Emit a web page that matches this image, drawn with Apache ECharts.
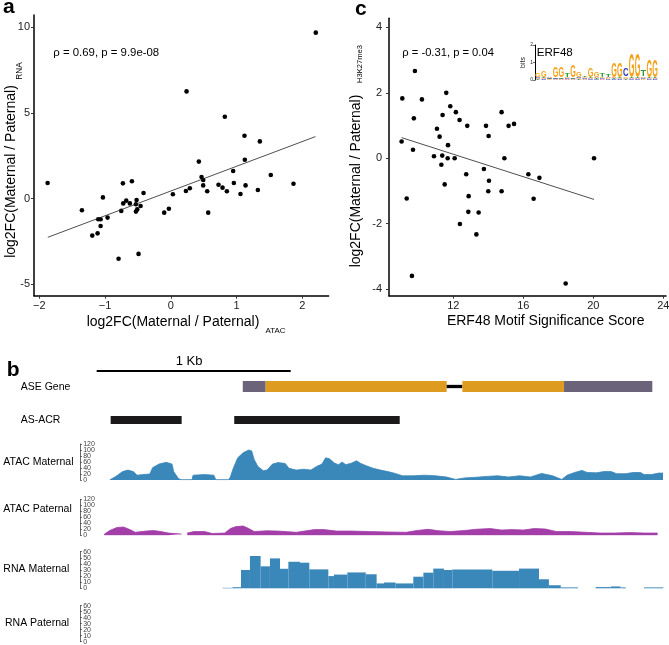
<!DOCTYPE html>
<html>
<head>
<meta charset="utf-8">
<script src="https://cdn.jsdelivr.net/npm/echarts@6/dist/echarts.min.js"></script>
<style>html,body{margin:0;padding:0;background:#fff}#c{width:669px;height:645px}</style>
</head>
<body>
<div id="c"></div>
<script>
// ---------- Panel a data ----------
const aX = [2.205,-1.873,0.240,0.822,1.121,1.354,0.427,1.126,1.521,0.468,0.493,0.949,0.959,1.866,0.726,0.493,1.137,0.787,0.290,0.230,0.554,0.853,1.324,1.060,0.032,-0.414,-0.728,-0.591,-1.032,-0.520,-0.677,-0.723,-0.622,-0.530,-0.459,-0.510,-0.530,-0.753,-0.100,-0.029,0.569,-1.351,-0.961,-1.103,-1.067,-1.067,-1.194,-1.113,-0.794,-0.490];
const aY = [9.69,0.91,6.26,4.78,3.67,3.34,2.16,2.27,1.38,1.26,1.09,1.61,0.91,0.87,0.81,0.77,0.77,0.64,0.60,0.44,0.43,0.43,0.50,0.27,0.25,0.33,0.89,1.01,0.07,-0.08,-0.12,-0.28,-0.28,-0.33,-0.43,-0.63,-0.76,-0.72,-0.82,-0.59,-0.82,-0.68,-1.11,-1.21,-1.21,-1.60,-2.16,-2.03,-3.51,-3.23];
const aFitX = [-1.87, 2.20];
const aFitY = [-2.26, 3.62];
const aXTicks = [-2,-1,0,1,2];
const aYTicks = [-5,0,5,10];

// ---------- Panel c data ----------
const cX = [9.81,9.09,10.21,11.60,11.83,12.15,14.76,9.75,11.39,12.36,12.80,13.87,15.16,15.47,11.07,11.22,14.02,9.05,11.70,9.70,10.90,11.37,11.68,12.08,14.92,20.04,11.32,13.75,12.74,16.29,16.92,14.04,11.51,14.00,14.76,12.88,9.34,16.59,12.86,13.45,12.38,13.32,9.64,18.42];
const cY = [2.67,1.83,1.80,2.00,1.59,1.41,1.41,1.22,1.32,1.17,0.99,0.99,0.99,1.05,0.90,0.66,0.68,0.51,0.40,0.26,0.06,0.08,0.00,0.00,0.00,0.00,-0.20,-0.33,-0.49,-0.49,-0.60,-0.69,-0.80,-1.01,-1.01,-1.16,-1.23,-1.24,-1.64,-1.66,-2.01,-2.33,-3.60,-3.83];
const cFitX = [9.05, 20.04];
const cFitY = [0.63, -1.26];
const cXTicks = [12,16,20,24];
const cYTicks = [-4,-2,0,2,4];

// ---------- Motif (ERF48) letter heights in bits ----------
const motifA = [.05,.05,.06,.04,.04,.05,.04,.05,.05,.05,.06,.05,.06,.06,.05,.06,.05,.05,.08,.06,.05];
const motifC = [.05,.04,.05,.05,.04,.06,.04,.05,.05,.04,.05,.06,.05,.04,.04,.45,.04,.04,.06,.04,.04];
const motifG = [.25,.36,.04,.62,.58,.06,.65,.33,.05,.52,.28,.06,.05,.80,.80,.08,1.40,1.40,.05,.95,.95];
const motifT = [.04,.05,.04,.04,.05,.25,.05,.04,.05,.05,.05,.20,.15,.05,.05,.05,.06,.05,.40,.06,.05];

// ---------- Panel b (relative bp) ----------
const scaleBar = [0, 1000];
const geneStart = [753, 871, 1804, 1885, 2409];
const geneEnd   = [871, 1804, 1885, 2409, 2864];
const geneType  = ['utr','cds','intron','cds','utr'];
const acrStart = [72, 709];
const acrEnd   = [438, 1562];
const atacTicks = [0,20,40,60,80,100,120];
const rnaTicks = [0,10,20,30,40,50,60];

const atacPos = [67,104,133,161,189,208,237,274,288,321,359,388,397,421,435,491,497,557,604,614,680,689,704,727,755,784,799,812,831,859,878,906,935,972,991,1029,1067,1104,1133,1161,1180,1199,1227,1246,1265,1284,1312,1340,1359,1387,1425,1463,1501,1538,1576,1633,1689,1746,1803,1850,1897,1954,2010,2067,2123,2180,2236,2293,2350,2397,2425,2463,2501,2529,2576,2614,2652,2680,2727,2765,2803,2821,2859,2897,2919];
const atacMat = [0,14,28,33,28,16,18,20,41,53,59,53,28,5,1,1,16,18,16,1,1,10,39,74,91,100,97,68,45,31,33,53,58,55,39,33,36,33,45,53,74,71,56,51,60,51,56,64,56,48,39,33,28,22,14,14,16,14,10,2,7,9,12,14,10,14,10,22,14,2,16,25,32,25,24,28,28,21,21,25,25,18,18,23,23];

const patPos = [38,67,104,138,171,199,255,293,331,369,438,452,467,501,557,595,661,689,718,755,784,812,878,935,1029,1123,1171,1237,1312,1406,1501,1595,1652,1708,1765,1821,1897,1954,2029,2086,2142,2199,2255,2312,2369,2444,2519,2595,2670,2746,2821,2891];
const atacPat = [3,16,26,27.5,19,10,14,16,12.5,7.5,4,null,7.5,12.5,12.5,6,7.5,22.5,29,31,22.5,12.5,15,14,10,19,19,14,14,12.5,11,10,16,20,15,12.5,16,20,22.5,17.5,19,17.5,22.5,21,12.5,12.5,10,7.5,7.5,9,7.5,7.5];

const rnaStart = [649,700,744,790,845,893,945,988,1048,1096,1194,1223,1292,1387,1443,1481,1541,1632,1684,1735,1790,1833,2039,2177,2280,2331,2392,2572,2650,2700,2821];
const rnaEnd   = [700,744,790,845,893,945,988,1048,1096,1194,1223,1292,1387,1443,1481,1541,1632,1684,1735,1790,1833,2039,2177,2280,2331,2392,2481,2650,2700,2727,2921];
const rnaMat   = [0.8,1.8,30,53,36,49,32,43.5,42,31,20,22.5,26,23,8,9.5,8,19,25.6,32.3,30,31,28.7,32.3,14.8,5,1.5,2,3,1.5,1.5];

// ---------- styling ----------
const FONT = '"Liberation Sans", Arial, Helvetica, sans-serif';
const BLUE = '#3a87b9';
const PURPLE = '#a33ea9';
const ORANGE = '#dd9b20';
const SLATE = '#6a6379';
const LETTER_COLORS = {A:'#d42a2a', C:'#2a36b8', G:'#f3a31b', T:'#2f9a3a'};
const LETTER_W = {A:.722, C:.722, G:.778, T:.611};
const GX0 = -86, GX1 = 2950;

const zip = (xs, ys) => xs.map((x, i) => [x, ys[i]]);
const minusFmt = v => (v < 0 ? '\u2212' + Math.abs(v) : String(v));
const hyphenFmt = v => String(v);

function scatterAxes(gi, xr, yr, xt, yt, ylm, xfmt) {
  const common = {
    gridIndex: gi, type: 'value', splitLine: {show: false},
    axisLine: {show: true, onZero: false, lineStyle: {color: '#000', width: 1.5}},
  };
  return {
    x: Object.assign({}, common, {min: xr[0], max: xr[1],
      axisTick: {show: true, length: 3, customValues: xt, lineStyle: {color: '#333', width: 1}},
      axisLabel: {customValues: xt, formatter: xfmt, fontSize: 11, color: '#222', margin: 5, fontFamily: FONT}}),
    y: Object.assign({}, common, {min: yr[0], max: yr[1],
      axisTick: {show: true, length: 3, customValues: yt, lineStyle: {color: '#333', width: 1}},
      axisLabel: {customValues: yt, formatter: hyphenFmt, fontSize: 11, color: '#222', margin: ylm, fontFamily: FONT}})
  };
}
const axA = scatterAxes(0, [-2.08, 2.4], [-5.67, 10.72], aXTicks, aYTicks, 4, minusFmt);
const axC = scatterAxes(1, [8.33, 24.15], [-4.205, 4.28], cXTicks, cYTicks, 7, hyphenFmt);

const trackGrids = [
  {top: 370, height: 2},      // 3 scale bar
  {top: 381, height: 11},     // 4 gene
  {top: 416, height: 8},      // 5 ACR
  {top: 444, height: 36},     // 6 ATAC maternal
  {top: 499.3, height: 36},   // 7 ATAC paternal
  {top: 551.7, height: 36.6}, // 8 RNA maternal
  {top: 605.7, height: 36}    // 9 RNA paternal
];

const grids = [
  {left: 34, top: 15, width: 294.6, height: 280.7},
  {left: 389, top: 18.3, width: 277, height: 277.4},
  {left: 535, top: 45, width: 123, height: 35}
].concat(trackGrids.map(g => ({left: 80, top: g.top, width: 589, height: g.height})))
 .map(g => Object.assign({outerBoundsMode: 'none', containLabel: false}, g));

const xAxes = [axA.x, axC.x, {gridIndex: 2, type: 'value', min: 0.5, max: 21.5, show: false}];
const yAxes = [axA.y, axC.y, {
  gridIndex: 2, type: 'value', min: 0, max: 2, interval: 1, splitLine: {show: false},
  axisLine: {show: true, onZero: false, lineStyle: {color: '#000', width: 1}},
  axisTick: {show: true, length: 2, lineStyle: {color: '#000', width: 0.6}},
  axisLabel: {fontSize: 5, margin: 2, color: '#222', fontFamily: FONT},
  name: 'bits', nameLocation: 'middle', nameRotate: 90, nameGap: 7,
  nameTextStyle: {fontSize: 7, color: '#222', fontFamily: FONT}
}];
for (let i = 3; i <= 9; i++) {
  xAxes.push({gridIndex: i, type: 'value', min: GX0, max: GX1, show: false});
}
for (let i = 3; i <= 5; i++) {
  yAxes.push({gridIndex: i, type: 'value', min: 0, max: 1, show: false});
}
function trackY(gi, max, step) {
  return {
    gridIndex: gi, type: 'value', min: 0, max: max, interval: step, position: 'left',
    splitLine: {show: false},
    axisLine: {show: true, onZero: false, lineStyle: {color: '#444', width: 0.8}},
    axisTick: {show: true, inside: true, length: 2, lineStyle: {color: '#444', width: 0.7}},
    axisLabel: {show: false}
  };
}
yAxes.push(trackY(6, 120, 20), trackY(7, 120, 20), trackY(8, 60, 10), trackY(9, 60, 10));

function rectItem(colorFn, y0f, y1f) {
  return function (params, api) {
    const s = api.value(0), e = api.value(1);
    const v = api.value(2);
    const lo = y0f(v), hi = y1f(v);
    const p0 = api.coord([s, lo]);
    const p1 = api.coord([e, hi]);
    return {
      type: 'rect',
      shape: {x: p0[0], y: p1[1], width: p1[0] - p0[0], height: p0[1] - p1[1]},
      style: {fill: colorFn(params.dataIndex)}
    };
  };
}

function tickLabelItem(params, api) {
  const p = api.coord([api.value(0), api.value(1)]);
  return {
    type: 'text', x: p[0] + 3.2, y: p[1],
    style: {text: String(api.value(1)), font: '7px ' + FONT, fill: '#444', align: 'left', verticalAlign: 'middle'}
  };
}

function motifItem(params, api) {
  const pos = api.value(0);
  const letters = ['A', 'C', 'G', 'T'];
  const hs = [api.value(1), api.value(2), api.value(3), api.value(4)];
  const order = [0, 1, 2, 3].sort((i, j) => hs[i] - hs[j]);
  let cum = 0;
  const children = [];
  const F = 40;
  for (const k of order) {
    const h = hs[k];
    if (!(h > 0)) continue;
    const L = letters[k];
    const pB = api.coord([pos - 0.5, cum]);
    const pT = api.coord([pos + 0.5, cum + h]);
    const w = pT[0] - pB[0];
    const hp = pB[1] - pT[1];
    const sx = w * 0.96 / (LETTER_W[L] * F);
    const sy = hp / (0.72 * F);
    children.push({
      type: 'text', x: (pB[0] + pT[0]) / 2, y: (pB[1] + pT[1]) / 2 + 0.06 * F * sy,
      scaleX: sx, scaleY: sy,
      style: {text: L, font: 'bold ' + F + 'px ' + FONT, fill: LETTER_COLORS[L], align: 'center', verticalAlign: 'middle'}
    });
    cum += h;
  }
  return {type: 'group', children: children};
}

const series = [
  {type: 'scatter', xAxisIndex: 0, yAxisIndex: 0, data: zip(aX, aY), symbolSize: 4.6, itemStyle: {color: '#000', opacity: 1}, silent: true},
  {type: 'line', xAxisIndex: 0, yAxisIndex: 0, data: zip(aFitX, aFitY), symbol: 'none', lineStyle: {color: '#222', width: 0.8}, silent: true},
  {type: 'scatter', xAxisIndex: 1, yAxisIndex: 1, data: zip(cX, cY), symbolSize: 4.6, itemStyle: {color: '#000', opacity: 1}, silent: true},
  {type: 'line', xAxisIndex: 1, yAxisIndex: 1, data: zip(cFitX, cFitY), symbol: 'none', lineStyle: {color: '#222', width: 0.8}, silent: true},
  {type: 'custom', xAxisIndex: 2, yAxisIndex: 2, clip: false, silent: true,
    data: motifG.map((g, i) => [i + 1, motifA[i], motifC[i], g, motifT[i]]),
    encode: {x: 0, y: 3}, renderItem: motifItem},
  {type: 'custom', xAxisIndex: 3, yAxisIndex: 3, clip: false, silent: true,
    data: [[scaleBar[0], scaleBar[1], 1]], encode: {x: [0, 1]},
    renderItem: rectItem(() => '#000', () => 0, () => 1)},
  {type: 'custom', xAxisIndex: 4, yAxisIndex: 4, clip: false, silent: true,
    data: geneStart.map((s, i) => [s, geneEnd[i], geneType[i] === 'intron' ? 0 : 1]), encode: {x: [0, 1]},
    renderItem: rectItem(i => geneType[i] === 'cds' ? ORANGE : (geneType[i] === 'utr' ? SLATE : '#000'),
      v => v ? 0 : 0.35, v => v ? 1 : 0.65)},
  {type: 'custom', xAxisIndex: 5, yAxisIndex: 5, clip: false, silent: true,
    data: acrStart.map((s, i) => [s, acrEnd[i], 1]), encode: {x: [0, 1]},
    renderItem: rectItem(() => '#1b1919', () => 0, () => 1)},
  {type: 'line', xAxisIndex: 6, yAxisIndex: 6, data: zip(atacPos, atacMat), symbol: 'none', silent: true,
    lineStyle: {color: BLUE, width: 0.8}, areaStyle: {color: BLUE, opacity: 1}, connectNulls: false},
  {type: 'line', xAxisIndex: 7, yAxisIndex: 7, data: zip(patPos, atacPat), symbol: 'none', silent: true,
    lineStyle: {color: PURPLE, width: 0.8}, areaStyle: {color: PURPLE, opacity: 1}, connectNulls: false},
  {type: 'custom', xAxisIndex: 8, yAxisIndex: 8, clip: false, silent: true,
    data: rnaStart.map((s, i) => [s, rnaEnd[i], rnaMat[i]]), encode: {x: [0, 1], y: 2},
    renderItem: rectItem(() => BLUE, () => 0, v => v)}
];
[[6, atacTicks], [7, atacTicks], [8, rnaTicks], [9, rnaTicks]].forEach(([gi, ticks]) => {
  series.push({type: 'custom', xAxisIndex: gi, yAxisIndex: gi, clip: false, silent: true,
    data: ticks.map(v => [GX0, v]), encode: {x: 0, y: 1}, renderItem: tickLabelItem});
});

function txt(x, y, text, size, opts) {
  opts = opts || {};
  return {
    type: 'text', x: x, y: y, rotation: opts.rot || 0, silent: true,
    style: {text: text, font: (opts.bold ? 'bold ' : '') + size + 'px ' + FONT, fill: opts.fill || '#000',
      align: opts.align || 'left', verticalAlign: 'middle'}
  };
}
const R = Math.PI / 2;
const graphics = [
  txt(3, 7.5, 'a', 21, {bold: true}),
  txt(355, 9.5, 'c', 21, {bold: true}),
  txt(6.7, 370.4, 'b', 21, {bold: true}),
  txt(53.3, 53, '\u03c1 = 0.69, p = 9.9e-08', 11.4),
  txt(402.3, 53, '\u03c1 = -0.31, p = 0.04', 11.2),
  txt(11.2, 171.5, 'log2FC(Maternal / Paternal)', 14, {rot: R, align: 'center'}),
  txt(20, 71, 'RNA', 8.3, {rot: R, align: 'center'}),
  txt(173, 322.2, 'log2FC(Maternal / Paternal)', 14, {align: 'center'}),
  txt(275.5, 330.8, 'ATAC', 7.9, {align: 'center'}),
  txt(356, 181, 'log2FC(Maternal / Paternal)', 14, {rot: R, align: 'center'}),
  txt(360.3, 64, 'H3K27me3', 7.6, {rot: R, align: 'center'}),
  txt(545.7, 321.1, 'ERF48 Motif Significance Score', 14, {align: 'center'}),
  txt(536.7, 53, 'ERF48', 11.6),
  txt(189, 361.7, '1 Kb', 13, {align: 'center'}),
  txt(20.7, 386.7, 'ASE Gene', 10.5),
  txt(20.7, 420, 'AS-ACR', 10.5),
  txt(3.3, 462, 'ATAC Maternal', 10.5),
  txt(3.3, 509.3, 'ATAC Paternal', 10.5),
  txt(3.3, 569.3, 'RNA Maternal', 10.5),
  txt(5, 623.3, 'RNA Paternal', 10.5)
];

const chart = echarts.init(document.getElementById('c'), null, {renderer: 'canvas'});
chart.setOption({
  animation: false,
  backgroundColor: '#fff',
  textStyle: {fontFamily: FONT},
  grid: grids,
  xAxis: xAxes,
  yAxis: yAxes,
  series: series,
  graphic: graphics
});
</script>
</body>
</html>
